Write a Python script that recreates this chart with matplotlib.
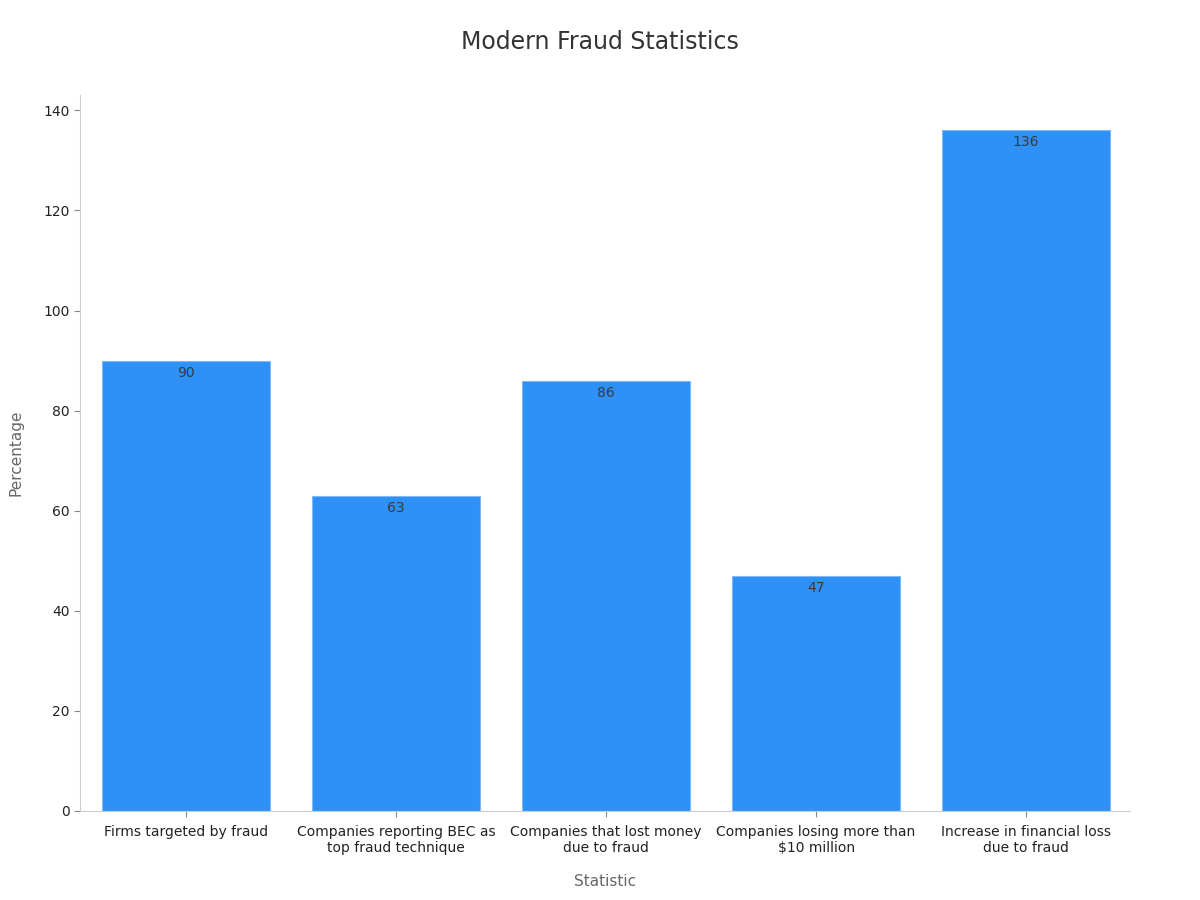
import numpy as np
import matplotlib
matplotlib.use("Agg")
import matplotlib.pyplot as plt

# data
categories = [
    "Firms targeted by fraud",
    "Companies reporting BEC as\ntop fraud technique",
    "Companies that lost money\ndue to fraud",
    "Companies losing more than\n$10 million",
    "Increase in financial loss\ndue to fraud",
]
values = [90, 63, 86, 47, 136]

plt.rcParams['font.family'] = ['DejaVu Sans']

fig = plt.figure(figsize=(12, 9), dpi=100)
ax = fig.add_axes([0.0667, 0.099, 0.875, 0.795])

x = np.arange(len(categories))
bars = ax.bar(x, values, width=0.8, color='#2e91f7', edgecolor='#7fb8f5', linewidth=0.8)

for rect, v in zip(bars, values):
    ax.text(rect.get_x() + rect.get_width() / 2, v - 1, str(v),
            ha='center', va='top', fontsize=10, color='#3a3a3a')

ax.set_xlim(-0.505, 4.495)
ax.set_ylim(0, 143)
ax.set_yticks(np.arange(0, 141, 20))
ax.set_xticks(x)
ax.set_xticklabels(categories, fontsize=10, color='#222222')
ax.tick_params(axis='y', labelsize=10, colors='#222222')
ax.tick_params(axis='both', color='#888888', length=4)
ax.tick_params(axis='x', pad=6)

for side in ['top', 'right']:
    ax.spines[side].set_visible(False)
for side in ['left', 'bottom']:
    ax.spines[side].set_color('#cccccc')

ax.set_xlabel('Statistic', fontsize=11, color='#666666', labelpad=14)
ax.set_ylabel('Percentage', fontsize=11, color='#666666', labelpad=14)
fig.suptitle('Modern Fraud Statistics', fontsize=17, color='#333333', y=0.967)

fig.savefig('out.png', dpi=100)
